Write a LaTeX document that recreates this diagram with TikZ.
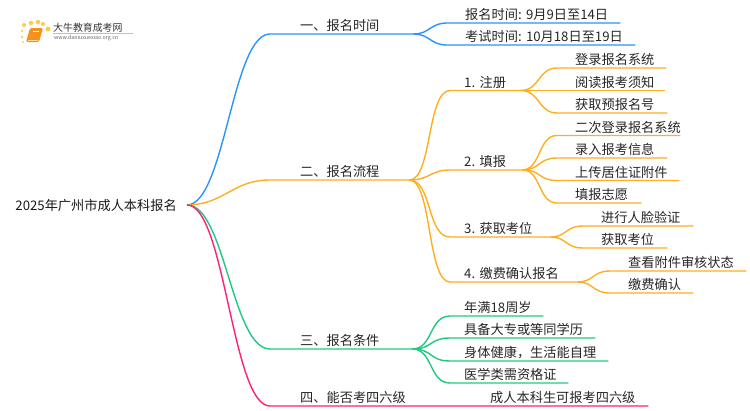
\documentclass[tikz,border=0pt]{standalone}
\usepackage{fontspec}
\usepackage{xcolor}
\setmainfont{Noto Sans CJK SC}
\frenchspacing
\usetikzlibrary{positioning,calc}

\definecolor{lineblue}{HTML}{2A93FF}
\definecolor{lineorange}{HTML}{FFAE1F}
\definecolor{linegreen}{HTML}{20C97F}
\definecolor{linepink}{HTML}{FF1F78}
\definecolor{booktone}{HTML}{F5921E}
\definecolor{dottone}{HTML}{FFC94A}

\tikzset{
    lab/.style 2 args={anchor=south west, inner sep=0pt, text width=#1pt, text depth=3.2pt, align=left,
        font=\fontsize{13.2}{15}\selectfont, text=black!85, execute at begin node={\hspace*{#2pt}}},
    bluelink/.style={line width=1.4pt, lineblue},
    orangelink/.style={line width=1.4pt, lineorange},
    greenlink/.style={line width=1.4pt, linegreen},
    pinklink/.style={line width=1.4pt, linepink},
    dot/.style={circle, fill=dottone, inner sep=0pt, minimum size=#1pt}
}

\begin{document}
\begin{tikzpicture}[x=1pt,y=-1pt]
    \useasboundingbox (0,0) rectangle (750,410);

    % Logo
    \node[dot=4] (d1) at (24,25) {};
    \node[dot=4.5] (d2) at (31,23) {};
    \node[dot=4.5] (d3) at (38,22) {};
    \node[dot=4] (d4) at (43,24) {};
    \node[dot=5] (d5) at (48,29) {};
    \node[dot=2.5] (d6) at (22,31) {};
    \node[dot=2.5] (d7) at (22,37) {};
    \node[dot=2] (d8) at (23,42) {};
    \draw [rounded corners=1.5pt, fill=booktone, draw=none] (30,28) -- (43,28) -- (39,42) -- (26,42) -- cycle;
    \draw [white, line width=0.6pt] (33,31) -- (39,31);
    \draw [orange!30, line width=0.7pt] (28,40) -- (38,40);
    \draw [black!25, line width=0.4pt] (53,33) -- (133,33);
    \node[anchor=west, inner sep=0pt, font=\fontsize{9.9}{11}\selectfont, text=black!80] (logotext) at (53,27.5) {大牛教育成考网};
    \node[anchor=west, inner sep=0pt, font=\fontsize{5.3}{6}\selectfont, text=black!60] (logourl) at (54,38.5) {www.daniuxuexiao.org.cn};

    % Root
    \node[anchor=east, inner xsep=10pt, inner ysep=0pt, font=\fontsize{13.2}{15}\selectfont, text=black!90] (root) at (187,205) {2025年广州市成人本科报名};

    % Branch one
    \node[lab={143}{30}] (time) at (270,34) {一、报名时间};
    \node[lab={173}{18}] (time1) at (447,23) {报名时间: 9月9日至14日};
    \node[lab={188}{18}] (time2) at (447,45) {考试时间: 10月18日至19日};
    \draw [bluelink] (root.east) .. controls (225,204.5) and (232,34) .. (time.south west) -- (time.south east);
    \draw [bluelink] (time.south east) .. controls (430,34) and (430,23) .. (time1.south west) -- (time1.south east);
    \draw [bluelink] (time.south east) .. controls (430,34) and (430,45) .. (time2.south west) -- (time2.south east);

    % Branch two
    \node[lab={139}{30}] (flow) at (270,180) {二、报名流程};
    \node[lab={70}{14}] (reg) at (450,90.5) {1. 注册};
    \node[lab={72}{14}] (fill) at (450,170) {2. 填报};
    \node[lab={100}{14}] (seat) at (450,237) {3. 获取考位};
    \node[lab={127}{14}] (pay) at (450,282) {4. 缴费确认报名};
    \draw [orangelink] (root.east) .. controls (225,204.5) and (232,180) .. (flow.south west) -- (flow.south east);
    \draw [orangelink] (flow.south east) .. controls (432,180) and (427,90.5) .. (reg.south west) -- (reg.south east);
    \draw [orangelink] (flow.south east) .. controls (430,180) and (430,170) .. (fill.south west) -- (fill.south east);
    \draw [orangelink] (flow.south east) .. controls (432,180) and (427,237) .. (seat.south west) -- (seat.south east);
    \draw [orangelink] (flow.south east) .. controls (432,180) and (427,282) .. (pay.south west) -- (pay.south east);

    % Leaves of 1
    \node[lab={109}{18}] (reg1) at (557,68) {登录报名系统};
    \node[lab={108}{18}] (reg2) at (557,90.5) {阅读报考须知};
    \node[lab={110}{18}] (reg3) at (557,113) {获取预报名号};
    \draw [orangelink] (reg.south east) .. controls (540,90.5) and (538,68) .. (reg1.south west) -- (reg1.south east);
    \draw [orangelink] (reg.south east) -- (reg2.south west) -- (reg2.south east);
    \draw [orangelink] (reg.south east) .. controls (540,90.5) and (538,113) .. (reg3.south west) -- (reg3.south east);

    % Leaves of 2
    \node[lab={123}{18}] (fill1) at (557,135.5) {二次登录报名系统};
    \node[lab={110}{18}] (fill2) at (557,158) {录入报考信息};
    \node[lab={122}{18}] (fill3) at (557,180.5) {上传居住证附件};
    \node[lab={84}{18}] (fill4) at (557,203) {填报志愿};
    \draw [orangelink] (fill.south east) .. controls (541,169.5) and (538,135.5) .. (fill1.south west) -- (fill1.south east);
    \draw [orangelink] (fill.south east) .. controls (541,169.5) and (538,158) .. (fill2.south west) -- (fill2.south east);
    \draw [orangelink] (fill.south east) .. controls (541,169.5) and (538,180.5) .. (fill3.south west) -- (fill3.south east);
    \draw [orangelink] (fill.south east) .. controls (541,169.5) and (538,203) .. (fill4.south west) -- (fill4.south east);

    % Leaves of 3
    \node[lab={110}{18}] (seat1) at (583,226) {进行人脸验证};
    \node[lab={84}{18}] (seat2) at (583,248) {获取考位};
    \draw [orangelink] (seat.south east) .. controls (567,237) and (565,226) .. (seat1.south west) -- (seat1.south east);
    \draw [orangelink] (seat.south east) .. controls (567,237) and (565,248) .. (seat2.south west) -- (seat2.south east);

    % Leaves of 4
    \node[lab={136}{18}] (pay1) at (610,271) {查看附件审核状态};
    \node[lab={83}{18}] (pay2) at (610,293) {缴费确认};
    \draw [orangelink] (pay.south east) .. controls (594,282) and (592,271) .. (pay1.south west) -- (pay1.south east);
    \draw [orangelink] (pay.south east) .. controls (594,282) and (592,293) .. (pay2.south west) -- (pay2.south east);

    % Branch three
    \node[lab={142}{30}] (cond) at (270,349) {三、报名条件};
    \node[lab={93}{14}] (cond1) at (450,316) {年满18周岁};
    \node[lab={145}{14}] (cond2) at (450,338) {具备大专或等同学历};
    \node[lab={158}{14}] (cond3) at (450,361) {身体健康，生活能自理};
    \node[lab={118}{14}] (cond4) at (450,383) {医学类需资格证};
    \draw [greenlink] (root.east) .. controls (225,204.5) and (232,349) .. (cond.south west) -- (cond.south east);
    \draw [greenlink] (cond.south east) .. controls (433,349) and (429,316) .. (cond1.south west) -- (cond1.south east);
    \draw [greenlink] (cond.south east) .. controls (433,349) and (429,338) .. (cond2.south west) -- (cond2.south east);
    \draw [greenlink] (cond.south east) .. controls (433,349) and (429,361) .. (cond3.south west) -- (cond3.south east);
    \draw [greenlink] (cond.south east) .. controls (433,349) and (429,383) .. (cond4.south west) -- (cond4.south east);

    % Branch four
    \node[lab={150}{30}] (cet) at (270,406) {四、能否考四六级};
    \node[lab={228}{70}] (cet1) at (420,406) {成人本科生可报考四六级};
    \draw [pinklink] (root.east) .. controls (225,204.5) and (232,406) .. (cet.south west) -- (cet.south east) -- (cet1.south east);
\end{tikzpicture}
\end{document}
